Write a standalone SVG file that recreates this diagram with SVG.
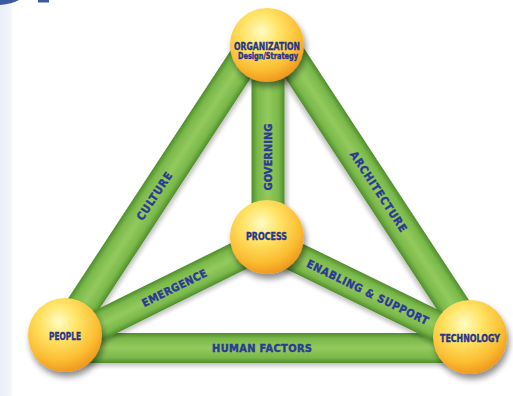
<svg xmlns="http://www.w3.org/2000/svg" width="513" height="396" viewBox="0 0 513 396">
<defs>
<linearGradient id="barGrad" x1="0" y1="0" x2="0" y2="1">
<stop offset="0" stop-color="#4f8d2c"/>
<stop offset="0.18" stop-color="#7ab84a"/>
<stop offset="0.5" stop-color="#93ca5e"/>
<stop offset="0.82" stop-color="#7ab84a"/>
<stop offset="1" stop-color="#4f8d2c"/>
</linearGradient>
<radialGradient id="ball" cx="0.42" cy="0.32" r="0.7">
<stop offset="0" stop-color="#fffbc4"/>
<stop offset="0.35" stop-color="#ffe466"/>
<stop offset="0.75" stop-color="#fbbd32"/>
<stop offset="1" stop-color="#ee961c"/>
</radialGradient>
<filter id="shadow" x="-30%" y="-30%" width="170%" height="170%">
<feGaussianBlur in="SourceAlpha" stdDeviation="3"/>
<feOffset dx="2" dy="5" result="b"/>
<feComponentTransfer><feFuncA type="linear" slope="0.45"/></feComponentTransfer>
<feMerge><feMergeNode/><feMergeNode in="SourceGraphic"/></feMerge>
</filter>
<filter id="barShadow" x="-10%" y="-50%" width="120%" height="200%">
<feGaussianBlur in="SourceAlpha" stdDeviation="2"/>
<feOffset dx="1" dy="3"/>
<feComponentTransfer><feFuncA type="linear" slope="0.25"/></feComponentTransfer>
<feMerge><feMergeNode/><feMergeNode in="SourceGraphic"/></feMerge>
</filter>
<linearGradient id="strip" x1="0" y1="0" x2="1" y2="0">
<stop offset="0" stop-color="#e9eef8"/>
<stop offset="1" stop-color="#f5f7fc"/>
</linearGradient>
</defs>
<style>
.bar{fill:url(#barGrad);filter:url(#barShadow)}
.ball{fill:url(#ball);filter:url(#shadow)}
.nt{font-family:"Liberation Sans Narrow","DejaVu Sans Condensed","Liberation Sans",sans-serif;font-weight:bold;fill:#27348b;stroke:#27348b;stroke-width:0.35px;text-anchor:middle}
.bl{font-family:"Liberation Sans Narrow","DejaVu Sans Condensed","Liberation Sans",sans-serif;font-weight:bold;fill:#2a3a95;stroke:#2a3a95;stroke-width:0.4px;text-anchor:middle;font-size:11px}
</style>
<rect width="513" height="396" fill="#ffffff"/>
<rect x="0" y="0" width="12" height="396" fill="url(#strip)"/>
<path d="M0,0 L19,0 Q12,4 0,5 Z" fill="#3b58a3"/>
<rect x="38" y="0" width="11" height="2.5" fill="#3b58a3"/>

<g id="connectors">
<g id="bar-culture" transform="translate(60,340) rotate(-56.77)"><rect class="bar" x="0" y="-16" width="347" height="32"/><text class="bl" x="172" y="4" textLength="55" lengthAdjust="spacing">CULTURE</text></g>
<g id="bar-architecture" transform="translate(286,50) rotate(56.77)"><rect class="bar" x="0" y="-16" width="347" height="32"/><text class="bl" x="169" y="4" textLength="94" lengthAdjust="spacing">ARCHITECTURE</text></g>
<g id="bar-governing" transform="translate(268,240) rotate(-90)"><rect class="bar" x="0" y="-16.5" width="195" height="33"/><text class="bl" x="83" y="4" textLength="67" lengthAdjust="spacing">GOVERNING</text></g>
<g id="bar-human" transform="translate(60,348)"><rect class="bar" x="0" y="-15" width="416" height="30"/><text class="bl" x="202" y="4" textLength="100" lengthAdjust="spacing">HUMAN FACTORS</text></g>
<g id="bar-emergence" transform="translate(65,342) rotate(-26.34)"><rect class="bar" x="0" y="-15" width="225" height="30"/><text class="bl" x="122" y="4" textLength="71" lengthAdjust="spacing">EMERGENCE</text></g>
<g id="bar-enabling" transform="translate(267,243) rotate(26)"><rect class="bar" x="0" y="-15" width="226" height="30"/><text class="bl" x="112" y="4" textLength="134" lengthAdjust="spacing">ENABLING &amp; SUPPORT</text></g>
</g>

<g id="node-organization">
<circle class="ball" cx="267" cy="45" r="37"/>
<text class="nt" x="267" y="50" font-size="10.5" textLength="66" lengthAdjust="spacingAndGlyphs">ORGANIZATION</text>
<text class="nt" x="268" y="58.5" font-size="8" textLength="60" lengthAdjust="spacingAndGlyphs">Design/Strategy</text>
</g>
<g id="node-process">
<circle class="ball" cx="267" cy="237" r="37"/>
<text class="nt" x="266.5" y="240" font-size="10.5" textLength="41" lengthAdjust="spacingAndGlyphs">PROCESS</text>
</g>
<g id="node-people">
<circle class="ball" cx="65" cy="335" r="37"/>
<text class="nt" x="65" y="339.5" font-size="10.5" textLength="32" lengthAdjust="spacingAndGlyphs">PEOPLE</text>
</g>
<g id="node-technology">
<circle class="ball" cx="470" cy="337" r="37"/>
<text class="nt" x="470" y="341.5" font-size="10.5" textLength="60" lengthAdjust="spacingAndGlyphs">TECHNOLOGY</text>
</g>
</svg>
